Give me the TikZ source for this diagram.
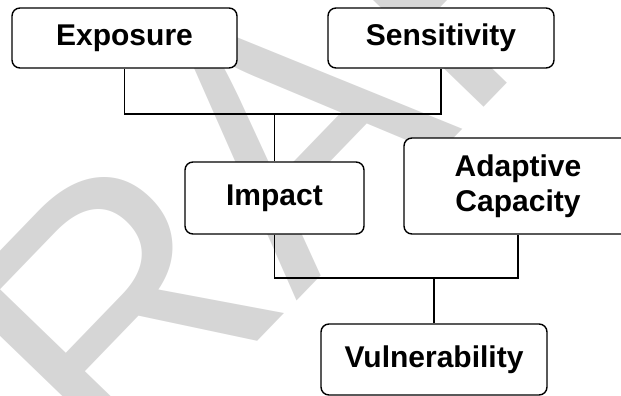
\documentclass[tikz,border=0pt]{standalone}
\usepackage{fontspec}
\setmainfont{Liberation Sans}
\begin{document}
\begin{tikzpicture}[x=1pt,y=-1pt,
    box/.style={draw,line width=1.4pt,rounded corners=8pt,fill=white,inner sep=0pt,
        align=center,font=\fontsize{30}{35}\selectfont\bfseries},
    link/.style={line width=1.4pt}]
            \useasboundingbox (0,0) rectangle (621,396);
            \clip (0,0) rectangle (621,396);
            \node[rotate=46,inner sep=0pt,text=black!16,font=\fontsize{360}{360}\selectfont] (mark) at (263,158) {DRAFT};
            \node[box,minimum width=225pt,minimum height=60pt] (expo) at (124.5,38) {Exposure};
            \node[box,minimum width=226pt,minimum height=60pt] (sens) at (441,38) {Sensitivity};
            \node[box,minimum width=179pt,minimum height=72pt] (imp) at (274.5,198) {Impact};
            \node[box,minimum width=228pt,minimum height=96pt] (adap) at (518,186) {Adaptive\\Capacity};
            \node[box,minimum width=226pt,minimum height=71pt] (vuln) at (434,359.5) {Vulnerability};
            \coordinate (j1) at (274.5,114);
            \coordinate (j2) at (434,278);
            \draw[link] (expo.south) |- (j1) -| (sens.south);
            \draw[link] (j1) -- (imp.north);
            \draw[link] (imp.south) |- (j2) -| (adap.south);
            \draw[link] (j2) -- (vuln.north);
\end{tikzpicture}
\end{document}
